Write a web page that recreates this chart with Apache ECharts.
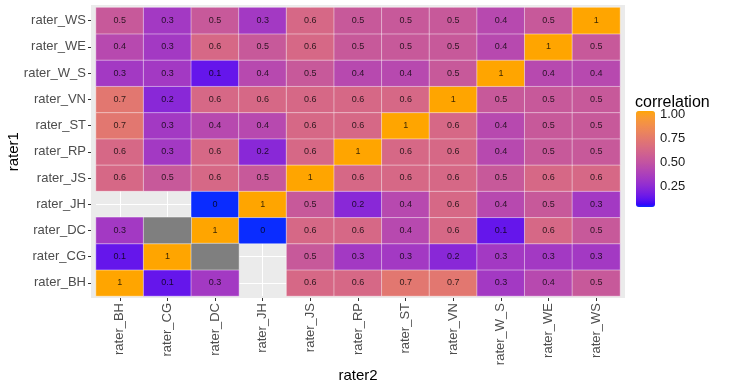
<!DOCTYPE html>
<html>
<head>
<meta charset="utf-8">
<script src="https://cdn.jsdelivr.net/npm/echarts@6/dist/echarts.min.js"></script>
<style>html,body{margin:0;padding:0;background:#fff;}#c{width:730px;height:389px;}</style>
</head>
<body>
<div id="c"></div>
<script>
// ---- data ----
const raters = ['rater_BH','rater_CG','rater_DC','rater_JH','rater_JS','rater_RP','rater_ST','rater_VN','rater_W_S','rater_WE','rater_WS'];
// rows = rater1, columns follow `raters` order (rater2); null = no tile, 'NA' = grey tile (missing correlation)
const rBH  = [1, 0.1, 0.3, null, 0.6, 0.6, 0.7, 0.7, 0.3, 0.4, 0.5];
const rCG  = [0.1, 1, 'NA', null, 0.5, 0.3, 0.3, 0.2, 0.3, 0.3, 0.3];
const rDC  = [0.3, 'NA', 1, 0, 0.6, 0.6, 0.4, 0.6, 0.1, 0.6, 0.5];
const rJH  = [null, null, 0, 1, 0.5, 0.2, 0.4, 0.6, 0.4, 0.5, 0.3];
const rJS  = [0.6, 0.5, 0.6, 0.5, 1, 0.6, 0.6, 0.6, 0.5, 0.6, 0.6];
const rRP  = [0.6, 0.3, 0.6, 0.2, 0.6, 1, 0.6, 0.6, 0.4, 0.5, 0.5];
const rST  = [0.7, 0.3, 0.4, 0.4, 0.6, 0.6, 1, 0.6, 0.4, 0.5, 0.5];
const rVN  = [0.7, 0.2, 0.6, 0.6, 0.6, 0.6, 0.6, 1, 0.5, 0.5, 0.5];
const rW_S = [0.3, 0.3, 0.1, 0.4, 0.5, 0.4, 0.4, 0.5, 1, 0.4, 0.4];
const rWE  = [0.4, 0.3, 0.6, 0.5, 0.6, 0.5, 0.5, 0.5, 0.4, 1, 0.5];
const rWS  = [0.5, 0.3, 0.5, 0.3, 0.6, 0.5, 0.5, 0.5, 0.4, 0.5, 1];
const rowsByRater = [rBH, rCG, rDC, rJH, rJS, rRP, rST, rVN, rW_S, rWE, rWS];
const legendTicks = [0.25, 0.5, 0.75, 1.0];

// ---- Lab gradient (like ggplot scale_fill_gradient) ----
function hex2rgb(h){h=h.replace('#','');return [0,2,4].map(i=>parseInt(h.substr(i,2),16)/255);}
function lin(c){return c<=0.04045?c/12.92:Math.pow((c+0.055)/1.055,2.4);}
function delin(c){return c<=0.0031308?12.92*c:1.055*Math.pow(c,1/2.4)-0.055;}
const WX=0.95047,WY=1,WZ=1.08883;
function f(t){return t>0.008856?Math.cbrt(t):(7.787*t+16/116);}
function finv(t){return t*t*t>0.008856?t*t*t:(t-16/116)/7.787;}
function toLab(hex){const [r,g,b]=hex2rgb(hex).map(lin);
  const X=r*0.4124+g*0.3576+b*0.1805, Y=r*0.2126+g*0.7152+b*0.0722, Z=r*0.0193+g*0.1192+b*0.9505;
  const fx=f(X/WX),fy=f(Y/WY),fz=f(Z/WZ);return [116*fy-16,500*(fx-fy),200*(fy-fz)];}
function fromLab(L,a,b){const fy=(L+16)/116,fx=fy+a/500,fz=fy-b/200;
  const X=WX*finv(fx),Y=WY*finv(fy),Z=WZ*finv(fz);
  let r=X*3.2406+Y*-1.5372+Z*-0.4986,g=X*-0.9689+Y*1.8758+Z*0.0415,bb=X*0.0557+Y*-0.2040+Z*1.0570;
  return '#'+[r,g,bb].map(v=>{v=Math.round(Math.min(1,Math.max(0,delin(v)))*255);return (v<16?'0':'')+v.toString(16);}).join('');}
const lowLab=toLab('#0000FF'), highLab=toLab('#FFA500');
const stops=[];
for(let i=0;i<=40;i++){const t=i/40;stops.push(fromLab(lowLab[0]+(highLab[0]-lowLab[0])*t,lowLab[1]+(highLab[1]-lowLab[1])*t,lowLab[2]+(highLab[2]-lowLab[2])*t));}
stops[0]='#0a2cff';

// ---- build series data ----
const cells=[], naCells=[];
rowsByRater.forEach((row,yi)=>row.forEach((v,xi)=>{
  if(v===null) return;
  if(v==='NA') naCells.push([xi,yi,1]); // third dim only flags presence; colour is fixed grey
  else cells.push([xi,yi,v]);
}));

const G={left:96, top:7.5, width:524, height:288.5};
const axisTxt={color:'#4D4D4D', fontSize:13, fontFamily:'Liberation Sans'};
const chart=echarts.init(document.getElementById('c'),null,{renderer:'canvas'});
chart.setOption({
  animation:false,
  textStyle:{fontFamily:'Liberation Sans'},
  grid:[
    {left:G.left, top:G.top, width:G.width, height:G.height, show:false, containLabel:false, outerBoundsMode:'none'},
    {left:91, top:5, width:534, height:293, show:true, backgroundColor:'#EBEBEB', borderWidth:0, z:0, containLabel:false, outerBoundsMode:'none'},
    {left:636, top:114, width:19, height:96, show:false, containLabel:false, outerBoundsMode:'none'}
  ],
  xAxis:[
    {type:'category', gridIndex:0, data:raters, position:'bottom', offset:2,
     axisLine:{show:false}, axisTick:{show:true, alignWithLabel:true, length:3, lineStyle:{color:'#333'}},
     axisLabel:Object.assign({rotate:90, margin:5, interval:0}, axisTxt),
     splitLine:{show:false},
     name:'rater2', nameLocation:'middle', nameGap:70, nameMoveOverlap:false,
     nameTextStyle:{color:'#000', fontSize:15, fontFamily:'Liberation Sans'}},
    {type:'value', gridIndex:1, show:false},
    {type:'value', gridIndex:2, show:false}
  ],
  yAxis:[
    {type:'category', gridIndex:0, data:raters, position:'left', offset:5,
     axisLine:{show:false}, axisTick:{show:true, alignWithLabel:true, length:3, lineStyle:{color:'#333'}},
     axisLabel:Object.assign({margin:5, interval:0}, axisTxt),
     splitLine:{show:false},
     name:'rater1', nameLocation:'middle', nameRotate:90, nameGap:70, nameMoveOverlap:false,
     nameTextStyle:{color:'#000', fontSize:15, fontFamily:'Liberation Sans'}},
    {type:'value', gridIndex:1, show:false},
    {type:'value', gridIndex:2, min:0, max:1, interval:0.25, position:'right',
     axisLine:{show:false}, splitLine:{show:false},
     axisTick:{show:false},
     axisLabel:{margin:5, fontSize:13, color:'#1a1a1a', fontFamily:'Liberation Sans',
       formatter:v=>legendTicks.includes(v)?v.toFixed(2):''}}
  ],
  visualMap:{
    type:'continuous', min:0, max:1, seriesIndex:1, calculable:false,
    orient:'vertical', left:636, top:111, itemWidth:19, itemHeight:96, padding:0,
    text:null, showLabel:false, hoverLink:false,
    inRange:{color:stops}
  },
  graphic:[
    {type:'text', left:635, top:95, style:{text:'correlation', fill:'#000', fontSize:16, fontFamily:'Liberation Sans'}}
  ],
  series:[
    {type:'line', xAxisIndex:0, yAxisIndex:0, data:[], z:1, silent:true,
     markLine:{silent:true, symbol:'none', z:1, animation:false,
       label:{show:false}, lineStyle:{color:'#ffffff', width:1, type:'solid', opacity:1},
       emphasis:{disabled:true},
       data:raters.map(r=>({xAxis:r})).concat(raters.map(r=>({yAxis:r})))}},
    {type:'heatmap', xAxisIndex:0, yAxisIndex:0, data:cells, z:2,
     itemStyle:{borderColor:'rgba(255,255,255,0.45)', borderWidth:1},
     label:{show:true, fontSize:9, color:'rgba(0,0,0,0.78)', fontFamily:'Liberation Sans',
       formatter:p=>String(p.value[2])},
     emphasis:{disabled:true}},
    {type:'heatmap', xAxisIndex:0, yAxisIndex:0, data:naCells, z:2,
     itemStyle:{color:'#7F7F7F', borderColor:'rgba(255,255,255,0.45)', borderWidth:1},
     label:{show:false}, emphasis:{disabled:true}}
  ]
});
</script>
</body>
</html>
